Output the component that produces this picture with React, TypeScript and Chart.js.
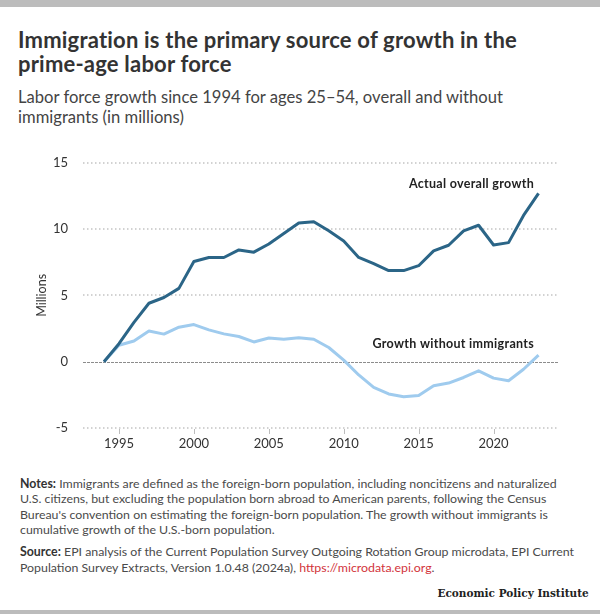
import React, { useEffect, useRef } from "react";
import { Chart, registerables } from "chart.js";

Chart.register(...registerables);

const years = [
  1994, 1995, 1996, 1997, 1998, 1999, 2000, 2001, 2002, 2003, 2004, 2005, 2006, 2007, 2008,
  2009, 2010, 2011, 2012, 2013, 2014, 2015, 2016, 2017, 2018, 2019, 2020, 2021, 2022, 2023,
];
const overallGrowth = [
  0, 1.36, 2.97, 4.41, 4.84, 5.53, 7.56, 7.86, 7.86, 8.43, 8.26, 8.88, 9.67, 10.46, 10.56,
  9.87, 9.1, 7.86, 7.39, 6.87, 6.87, 7.24, 8.36, 8.78, 9.87, 10.29, 8.8, 8.98, 11.03, 12.7,
];
const growthWithoutImmigrants = [
  0, 1.24, 1.56, 2.31, 2.08, 2.6, 2.8, 2.4, 2.1, 1.9, 1.49, 1.79, 1.69, 1.81, 1.69,
  1.07, 0.12, -1.0, -1.93, -2.43, -2.65, -2.55, -1.81, -1.61, -1.19, -0.69, -1.24, -1.44, -0.57, 0.5,
];
const seriesNames = ["Actual overall growth", "Growth without immigrants"];
const xTickYears = [1995, 2000, 2005, 2010, 2015, 2020];
const yTickValues = [-5, 0, 5, 10, 15];

const SANS = 'Lato, "Open Sans", sans-serif';
const DARK = "#2b6587";
const LIGHT = "#9fcbee";

const overlayPlugin = {
  id: "epiOverlay",
  beforeDatasetsDraw(chart: any) {
    const { ctx, chartArea, scales } = chart;
    ctx.save();
    // dotted horizontal grid lines
    ctx.strokeStyle = "#c4c4c4";
    ctx.lineWidth = 1.5;
    ctx.setLineDash([1.5, 2.5]);
    scales.y.ticks.forEach((t: any) => {
      if (t.value === 0) return;
      const py = Math.round(scales.y.getPixelForValue(t.value));
      ctx.beginPath();
      ctx.moveTo(chartArea.left, py);
      ctx.lineTo(chartArea.right, py);
      ctx.stroke();
    });
    // zero line
    const pz = Math.round(scales.y.getPixelForValue(0)) + 0.5;
    ctx.strokeStyle = "#8c8c8c";
    ctx.lineWidth = 1;
    ctx.setLineDash([3, 1]);
    ctx.beginPath();
    ctx.moveTo(chartArea.left, pz);
    ctx.lineTo(chartArea.right, pz);
    ctx.stroke();
    // x tick marks
    ctx.setLineDash([]);
    ctx.strokeStyle = "#bdbdbd";
    ctx.lineWidth = 1;
    scales.x.ticks.forEach((t: any) => {
      const px = Math.round(scales.x.getPixelForValue(t.value)) + 0.5;
      ctx.beginPath();
      ctx.moveTo(px, chartArea.bottom + 1);
      ctx.lineTo(px, chartArea.bottom + 6);
      ctx.stroke();
    });
    ctx.restore();
  },
  afterDatasetsDraw(chart: any) {
    const { ctx, scales } = chart;
    const anchors = [
      { x: 2022.7, y: 13.1 },
      { x: 2022.7, y: 1.0 },
    ];
    ctx.save();
    ctx.font = `bold 12.5px ${SANS}`;
    ctx.fillStyle = "#222";
    ctx.textAlign = "right";
    ctx.textBaseline = "alphabetic";
    try {
      (ctx as any).letterSpacing = "0.3px";
    } catch (e) {}
    seriesNames.forEach((name, i) => {
      ctx.fillText(name, scales.x.getPixelForValue(anchors[i].x), scales.y.getPixelForValue(anchors[i].y));
    });
    ctx.restore();
  },
};

function LaborChart() {
  const ref = useRef<HTMLCanvasElement>(null);
  useEffect(() => {
    if (!ref.current) return;
    const chart = new Chart(ref.current, {
      type: "line",
      data: {
        datasets: [
          {
            label: seriesNames[0],
            data: years.map((yr, i) => ({ x: yr, y: overallGrowth[i] })),
            borderColor: DARK,
            backgroundColor: DARK,
            borderWidth: 3,
            pointRadius: 0,
            borderJoinStyle: "round",
            tension: 0,
          },
          {
            label: seriesNames[1],
            data: years.map((yr, i) => ({ x: yr, y: growthWithoutImmigrants[i] })),
            borderColor: LIGHT,
            backgroundColor: LIGHT,
            borderWidth: 3,
            pointRadius: 0,
            borderJoinStyle: "round",
            tension: 0,
          },
        ],
      },
      options: {
        animation: false,
        responsive: false,
        maintainAspectRatio: false,
        layout: { padding: { top: 18, right: 42, left: 0, bottom: 0 } },
        plugins: { legend: { display: false }, tooltip: { enabled: false } },
        scales: {
          x: {
            type: "linear",
            min: 1992.6,
            max: 2024.3,
            afterBuildTicks: (scale: any) => {
              scale.ticks = xTickYears.map((v) => ({ value: v }));
            },
            afterFit: (scale: any) => {
              scale.height = 32;
            },
            grid: { display: false, drawTicks: false },
            border: { display: false },
            ticks: {
              padding: 8,
              color: "#333",
              font: { family: SANS, size: 13 },
              maxRotation: 0,
              callback: (v: any) => String(v),
            },
          },
          y: {
            min: -5,
            max: 15,
            afterBuildTicks: (scale: any) => {
              scale.ticks = yTickValues.map((v) => ({ value: v }));
            },
            afterFit: (scale: any) => {
              scale.width = 83;
            },
            grid: { display: false, drawTicks: false },
            border: { display: false },
            ticks: { padding: 15, color: "#333", font: { family: SANS, size: 13 } },
            title: {
              display: true,
              text: "Millions",
              color: "#333",
              font: { family: SANS, size: 12.5, lineHeight: 1.2 },
              padding: { top: 34, bottom: 0 },
            },
          },
        },
      },
      plugins: [overlayPlugin],
    } as any);
    return () => chart.destroy();
  }, []);
  return <canvas ref={ref} width={600} height={320} style={{ position: "absolute", left: 0, top: 140, width: 600, height: 320 }} />;
}

export default function App() {
  const base: React.CSSProperties = { position: "absolute", left: 18, whiteSpace: "nowrap", margin: 0 };
  return (
    <div style={{ position: "absolute", left: 0, top: 0, width: 600, height: 614, background: "#fff", overflow: "hidden", fontFamily: SANS }}>
      <div style={{ position: "absolute", left: 0, top: 0, width: 600, height: 7, background: "#bcbcbc" }} />
      <div style={{ ...base, top: 27.5, fontSize: 22, lineHeight: "24.5px", letterSpacing: "0.2px", fontWeight: 700, color: "#333" }}>
        Immigration is the primary source of growth in the
        <br />
        prime-age labor force
      </div>
      <div style={{ ...base, top: 86.6, fontSize: 16.6, lineHeight: "20px", color: "#444" }}>
        Labor force growth since 1994 for ages 25–54, overall and without
        <br />
        immigrants (in millions)
      </div>
      <LaborChart />
      <div style={{ ...base, left: 20, top: 475.7, fontSize: 12.35, lineHeight: "15.5px", color: "#4a4a4a" }}>
        <b style={{ color: "#333" }}>Notes:</b> Immigrants are defined as the foreign-born population, including noncitizens and naturalized
        <br />
        U.S. citizens, but excluding the population born abroad to American parents, following the Census
        <br />
        Bureau's convention on estimating the foreign-born population. The growth without immigrants is
        <br />
        cumulative growth of the U.S.-born population.
      </div>
      <div style={{ ...base, left: 20, top: 544.4, fontSize: 12.35, lineHeight: "15.5px", color: "#4a4a4a" }}>
        <b style={{ color: "#333" }}>Source:</b> EPI analysis of the Current Population Survey Outgoing Rotation Group microdata, EPI Current
        <br />
        Population Survey Extracts, Version 1.0.48 (2024a), <span style={{ color: "#d2333b" }}>https://microdata.epi.org</span>.
      </div>
      <div
        style={{
          position: "absolute",
          right: 11.3,
          top: 587,
          fontFamily: '"DejaVu Serif", "Liberation Serif", serif',
          fontWeight: 700,
          fontSize: 10.5,
          lineHeight: "12px",
          color: "#222",
          whiteSpace: "nowrap",
        }}
      >
        Economic Policy Institute
      </div>
      <div style={{ position: "absolute", left: 0, top: 610, width: 600, height: 4, background: "#bcbcbc" }} />
    </div>
  );
}
